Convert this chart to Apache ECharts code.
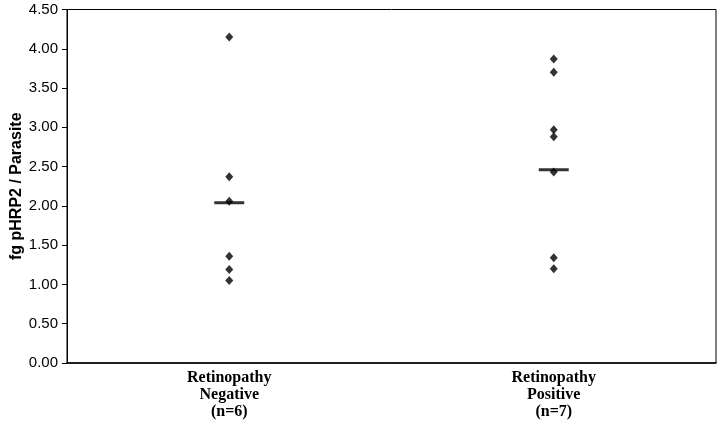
<!DOCTYPE html>
<html>
<head>
<meta charset="utf-8">
<script src="https://cdn.jsdelivr.net/npm/echarts@6/dist/echarts.min.js"></script>
<style>
  html, body { margin: 0; padding: 0; background: #fff; }
  #chart { width: 720px; height: 434px; }
</style>
</head>
<body>
<div id="chart"></div>
<script>
const categories = ['Retinopathy\nNegative\n(n=6)', 'Retinopathy\nPositive\n(n=7)']
const negativeValues = [4.15, 2.37, 2.06, 1.36, 1.19, 1.05]
const positiveValues = [3.87, 3.70, 2.97, 2.88, 2.43, 1.34, 1.20]
const centerLines = [2.04, 2.46]

const points = []
negativeValues.forEach(v => points.push([0, v]))
positiveValues.forEach(v => points.push([1, v]))

const chart = echarts.init(document.getElementById('chart'))
chart.setOption({
  animation: false,
  grid: {
    left: 67, right: 4, top: 9.5, bottom: 71,
    outerBoundsMode: 'none',
    containLabel: false,
    show: true, borderColor: '#000', borderWidth: 1
  },
  xAxis: {
    type: 'category',
    data: categories,
    boundaryGap: true,
    axisLine: { lineStyle: { color: '#000', width: 1.5 } },
    axisTick: { show: false },
    axisLabel: {
      color: '#000',
      fontFamily: 'Liberation Serif',
      fontWeight: 'bold',
      fontSize: 16,
      lineHeight: 17,
      margin: 6
    }
  },
  yAxis: {
    type: 'value',
    min: 0, max: 4.5, interval: 0.5,
    name: 'fg pHRP2 / Parasite',
    nameLocation: 'middle',
    nameGap: 42,
    nameMoveOverlap: false,
    nameTextStyle: {
      color: '#000', fontFamily: 'Liberation Sans', fontWeight: 'bold', fontSize: 16
    },
    axisLine: { show: true, lineStyle: { color: '#000' } },
    axisTick: { show: true, length: 5, lineStyle: { color: '#000' } },
    splitLine: { show: false },
    axisLabel: {
      color: '#000',
      fontFamily: 'Liberation Sans',
      fontSize: 15,
      margin: 9,
      formatter: v => v.toFixed(2)
    }
  },
  series: [
    {
      type: 'scatter',
      data: points,
      symbol: 'diamond',
      symbolSize: [8, 9],
      itemStyle: { color: '#000' }
    },
    {
      type: 'scatter',
      data: centerLines.map((v, i) => [i, v]),
      symbol: 'rect',
      symbolSize: [30, 3],
      itemStyle: { color: '#000' },
      z: 3
    }
  ]
})
</script>
</body>
</html>
